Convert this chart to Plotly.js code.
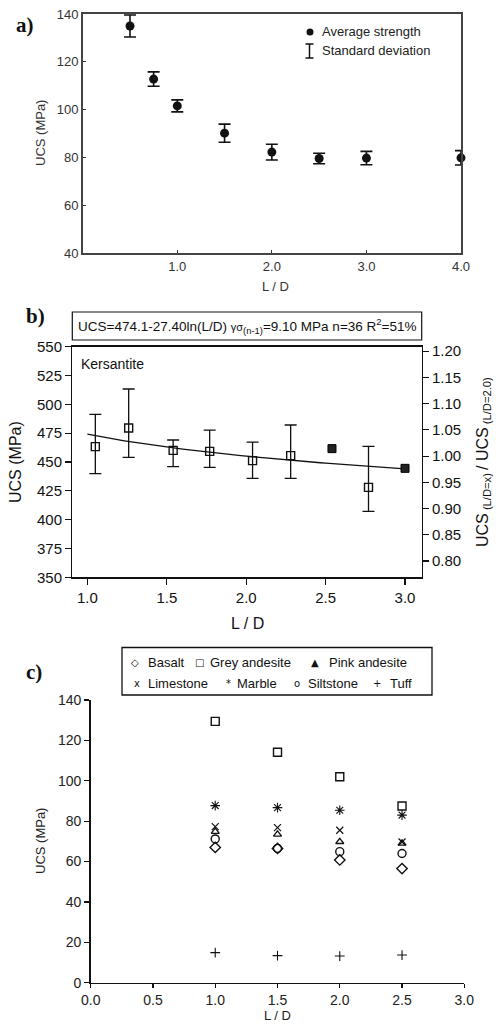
<!DOCTYPE html>
<html>
<head>
<meta charset="utf-8">
<script src="https://cdn.plot.ly/plotly-3.0.1.min.js"></script>
<style>
  html, body { margin: 0; padding: 0; background: #fff; }
  #chart { width: 496px; height: 1025px; }
</style>
</head>
<body>
<div id="chart"></div>
<script>
// ---- Panel a: average strength vs. slenderness ----
const aRatio = [0.5, 0.75, 1.0, 1.5, 2.0, 2.5, 3.0, 4.0];
const aMean  = [135.0, 112.8, 101.6, 90.2, 82.3, 79.6, 79.8, 79.9];
const aSd    = [4.6, 3.0, 2.5, 3.8, 3.3, 2.2, 2.8, 3.0];
const aTicks = [1, 2, 3, 4];

// ---- Panel b: Kersantite, mean with min/max range ----
const bRatio = [1.05, 1.26, 1.54, 1.77, 2.04, 2.28, 2.77];
const bMean  = [463.3, 479.5, 460.1, 459.2, 451.2, 455.5, 428.0];
const bHigh  = [491.3, 513.3, 469.1, 477.7, 467.3, 482.1, 463.6];
const bLow   = [439.9, 454.0, 446.0, 445.4, 435.8, 435.8, 407.2];
const bSingleRatio = [2.54, 3.0];
const bSingleUcs   = [461.6, 444.5];
// fitted law: UCS = fitA - fitB * ln(L/D)
const fitA = 474.1;
const fitB = 27.40;
const fitFrom = 1.0, fitTo = 3.0;

// ---- Panel c: UCS per rock type ----
const cRatio = [1.0, 1.5, 2.0, 2.5];
const rockNames = ['Basalt', 'Grey andesite', 'Pink andesite', 'Limestone', 'Marble', 'Siltstone', 'Tuff'];
const basalt       = [67.0, 66.5, 60.8, 56.5];
const greyAndesite = [129.4, 114.1, 102.0, 87.5];
const pinkAndesite = [74.8, 73.5, 69.8, 69.0];
const limestone    = [77.3, 76.8, 75.5, 69.7];
const marble       = [87.7, 86.7, 85.4, 83.0];
const siltstone    = [71.2, 66.5, 64.9, 64.0];
const tuff         = [14.9, 13.4, 13.2, 13.7];

// ---------------------------------------------------------------
const W = 496, H = 1025;
const X = p => p / W;
const Y = p => 1 - p / H;
const FONT = 'Liberation Sans, Arial, Helvetica, sans-serif';
const SERIF = 'Liberation Serif, Times New Roman, serif';

// sample the fitted curve from its coefficients
const fitX = [], fitY = [];
for (let i = 0; i <= 60; i++) {
  const r = fitFrom + (fitTo - fitFrom) * i / 60;
  fitX.push(r);
  fitY.push(fitA - fitB * Math.log(r));
}
const ucsAtTwo = fitA - fitB * Math.log(2.0);

const traces = [];

// panel a
traces.push({
  type: 'scatter', mode: 'markers', xaxis: 'x', yaxis: 'y',
  x: aRatio, y: aMean, cliponaxis: false,
  marker: { symbol: 'circle', size: 9, color: '#111' },
  error_y: { type: 'data', array: aSd, visible: true, color: '#111', thickness: 1.6, width: 6 }
});

// panel b
traces.push({
  type: 'scatter', mode: 'lines', xaxis: 'x2', yaxis: 'y2',
  x: fitX, y: fitY, line: { color: '#111', width: 1.3 }
});
traces.push({
  type: 'scatter', mode: 'markers', xaxis: 'x2', yaxis: 'y2',
  x: bRatio, y: bMean, cliponaxis: false,
  marker: { symbol: 'square-open', size: 8, color: '#111', line: { width: 1.4 } },
  error_y: {
    type: 'data', visible: true, symmetric: false,
    array: bHigh.map((h, i) => h - bMean[i]),
    arrayminus: bLow.map((l, i) => bMean[i] - l),
    color: '#111', thickness: 1.3, width: 6
  }
});
traces.push({
  type: 'scatter', mode: 'markers', xaxis: 'x2', yaxis: 'y2',
  x: bSingleRatio, y: bSingleUcs, cliponaxis: false,
  marker: { symbol: 'square', size: 8, color: '#222', line: { color: '#000', width: 1 } }
});
// ratio scale on the right-hand axis (carrier trace, not visible)
traces.push({
  type: 'scatter', mode: 'markers', xaxis: 'x2', yaxis: 'y3',
  x: bSingleRatio, y: bSingleUcs.map(v => v / ucsAtTwo),
  marker: { size: 1, opacity: 0 }, hoverinfo: 'skip'
});

// panel c
const cSeries = [basalt, greyAndesite, pinkAndesite, limestone, marble, siltstone, tuff];
const cSymbols = ['diamond-open', 'square-open', 'triangle-up-open', 'x-thin-open', 'asterisk-open', 'circle-open', 'cross-thin-open'];
const cSizes = [8, 8, 7, 7, 8, 8, 7];
const cWidths = [1.4, 1.4, 1.3, 1.2, 1.1, 1.4, 1.1];
cSeries.forEach((vals, k) => {
  traces.push({
    type: 'scatter', mode: 'markers', xaxis: 'x3', yaxis: 'y4',
    name: rockNames[k], x: cRatio, y: vals, cliponaxis: false,
    marker: { symbol: cSymbols[k], size: cSizes[k], color: '#111', line: { color: '#111', width: cWidths[k] } }
  });
});

const tickFontA = { family: FONT, size: 13, color: '#333' };
const tickFontB = { family: FONT, size: 15, color: '#111' };
const tickFontC = { family: FONT, size: 14, color: '#222' };

const common = { showgrid: false, zeroline: false, showline: true, fixedrange: true };

const layout = {
  width: W, height: H,
  margin: { l: 0, r: 0, t: 0, b: 0 },
  paper_bgcolor: '#fff', plot_bgcolor: 'rgba(0,0,0,0)',
  showlegend: false,
  font: { family: FONT, color: '#111' },

  xaxis: Object.assign({}, common, {
    domain: [X(82.7), X(461)], anchor: 'y', range: [0, 4],
    tickvals: aTicks, tickformat: '.1f',
    ticks: 'inside', ticklen: 3, tickwidth: 1.2, tickcolor: '#333',
    linecolor: '#444', linewidth: 1.6, mirror: true, tickfont: tickFontA
  }),
  yaxis: Object.assign({}, common, {
    domain: [Y(253.3), Y(14)], anchor: 'x', range: [40, 140], tick0: 40, dtick: 20,
    ticks: 'inside', ticklen: 3, tickwidth: 1.2, tickcolor: '#333',
    linecolor: '#444', linewidth: 1.6, mirror: true, tickfont: tickFontA
  }),

  xaxis2: Object.assign({}, common, {
    domain: [X(72.3), X(421.7)], anchor: 'y2', range: [0.905, 3.105],
    tick0: 1, dtick: 0.5, tickformat: '.1f',
    ticks: 'outside', ticklen: 6, tickwidth: 1.2, tickcolor: '#111',
    linecolor: '#111', linewidth: 1.3, mirror: true, tickfont: tickFontB
  }),
  yaxis2: Object.assign({}, common, {
    domain: [Y(577.3), Y(346.7)], anchor: 'x2', range: [350, 550], tick0: 350, dtick: 25,
    ticks: 'outside', ticklen: 6, tickwidth: 1.2, tickcolor: '#111',
    linecolor: '#111', linewidth: 1.3, tickfont: tickFontB
  }),
  yaxis3: Object.assign({}, common, {
    overlaying: 'y2', side: 'right', anchor: 'x2',
    range: [350 / ucsAtTwo, 550 / ucsAtTwo], tick0: 0.8, dtick: 0.05, tickformat: '.2f',
    ticks: 'outside', ticklen: 6, tickwidth: 1.2, tickcolor: '#111',
    linecolor: '#111', linewidth: 1.3, tickfont: tickFontB
  }),

  xaxis3: Object.assign({}, common, {
    domain: [X(90.7), X(464.3)], anchor: 'y4', range: [0, 3],
    tick0: 0, dtick: 0.5, tickformat: '.1f',
    ticks: 'outside', ticklen: 4, tickwidth: 1.3, tickcolor: '#111',
    linecolor: '#111', linewidth: 1.6, tickfont: tickFontC
  }),
  yaxis4: Object.assign({}, common, {
    domain: [Y(982.7), Y(700)], anchor: 'x3', range: [0, 140], tick0: 0, dtick: 20,
    ticks: 'outside', ticklen: 5, tickwidth: 1.3, tickcolor: '#111',
    linecolor: '#111', linewidth: 1.6, tickfont: tickFontC
  }),

  shapes: [
    // panel a key: filled dot and an I-bar
    { type: 'circle', xref: 'paper', yref: 'paper', x0: X(306.5), x1: X(313.5), y0: Y(35.5), y1: Y(28.5),
      fillcolor: '#111', line: { color: '#111', width: 0 } },
    { type: 'line', xref: 'paper', yref: 'paper', x0: X(309.5), x1: X(309.5), y0: Y(44), y1: Y(58), line: { color: '#111', width: 1.5 } },
    { type: 'line', xref: 'paper', yref: 'paper', x0: X(305.5), x1: X(313.5), y0: Y(44), y1: Y(44), line: { color: '#111', width: 1.5 } },
    { type: 'line', xref: 'paper', yref: 'paper', x0: X(305.5), x1: X(313.5), y0: Y(58), y1: Y(58), line: { color: '#111', width: 1.5 } },
    // panel b equation frame
    { type: 'rect', xref: 'paper', yref: 'paper', x0: X(72.3), x1: X(421.7), y0: Y(340), y1: Y(312),
      line: { color: '#111', width: 1.2 }, fillcolor: 'rgba(0,0,0,0)' },
    // panel c key frame
    { type: 'rect', xref: 'paper', yref: 'paper', x0: X(122), x1: X(432), y0: Y(695), y1: Y(647.5),
      line: { color: '#111', width: 1.3 }, fillcolor: 'rgba(0,0,0,0)' }
  ],

  annotations: []
};

const ann = layout.annotations;
function text(x, y, t, opts) {
  ann.push(Object.assign({
    xref: 'paper', yref: 'paper', x: X(x), y: Y(y), text: t, showarrow: false,
    xanchor: 'left', yanchor: 'middle', font: { family: FONT, size: 13, color: '#111' }
  }, opts || {}));
}

// panel letters
text(14, 25, '<b>a)</b>', { font: { family: SERIF, size: 21, color: '#111' } });
text(24, 316, '<b>b)</b>', { font: { family: SERIF, size: 21, color: '#111' } });
text(24, 672, '<b>c)</b>', { font: { family: SERIF, size: 21, color: '#111' } });

// panel a titles and key text
text(40, 133, 'UCS (MPa)', { xanchor: 'center', textangle: -90, font: { family: FONT, size: 13, color: '#333' } });
text(275, 286, 'L / D', { xanchor: 'center', font: { family: FONT, size: 13, color: '#333' } });
text(320, 31, 'Average strength', { font: { family: FONT, size: 13, color: '#222' } });
text(320, 50, 'Standard deviation', { font: { family: FONT, size: 13, color: '#222' } });

// panel b titles and notes
text(247, 326, 'UCS=474.1-27.40ln(L/D) <span style="font-size:11px">γσ</span><sub>(n-1)</sub>=9.10 MPa n=36 R<sup>2</sup>=51%',
     { xanchor: 'center', font: { family: FONT, size: 13.5, color: '#111' } });
text(79, 364, 'Kersantite', { font: { family: FONT, size: 14, color: '#111' } });
text(16, 462, 'UCS (MPa)', { xanchor: 'center', textangle: -90, font: { family: FONT, size: 16, color: '#111' } });
text(247, 623, 'L / D', { xanchor: 'center', font: { family: FONT, size: 16, color: '#111' } });
text(484, 462, 'UCS<sub> (L/D=x) </sub>/ UCS<sub> (L/D=2.0)</sub>', { xanchor: 'center', textangle: -90, font: { family: FONT, size: 16, color: '#111' } });

// panel c titles and key
text(40, 841, 'UCS (MPa)', { xanchor: 'center', textangle: -90, font: { family: FONT, size: 13, color: '#222' } });
text(277, 1015, 'L / D', { xanchor: 'center', font: { family: FONT, size: 13, color: '#222' } });
const keyGlyphs = ['◇', '□', '▲', 'x', '*', 'o', '+'];
const keyRows   = [0, 0, 0, 1, 1, 1, 1];
const keyGlyphX = [135, 199, 315, 137, 228, 297, 377];
const keyTextX  = [146, 208, 327, 146, 235, 306, 388];
rockNames.forEach((n, k) => {
  const yy = keyRows[k] === 0 ? 662 : 683;
  text(keyGlyphX[k], yy, keyGlyphs[k], { xanchor: 'center', font: { family: 'DejaVu Sans, sans-serif', size: 10, color: '#111' } });
  text(keyTextX[k], yy, n, { font: { family: FONT, size: 13, color: '#111' } });
});

Plotly.newPlot('chart', traces, layout, { staticPlot: true, displayModeBar: false });
</script>
</body>
</html>
